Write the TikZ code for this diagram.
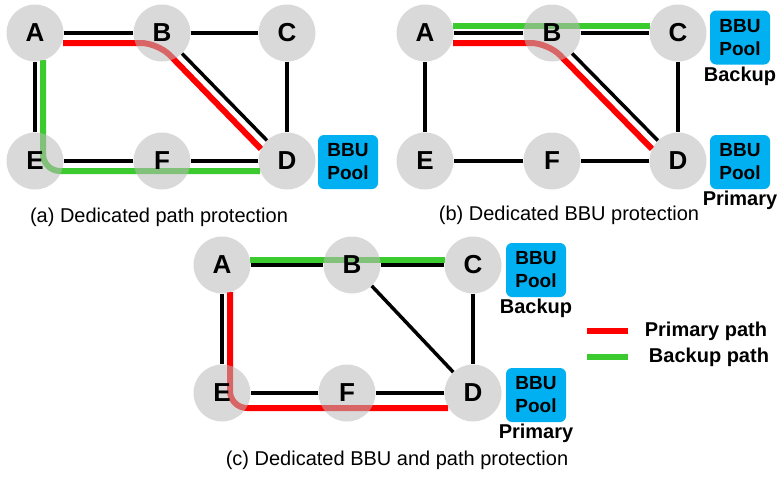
\documentclass[tikz,border=0pt]{standalone}
\usepackage{fontspec}
\setmainfont{Liberation Sans}
\usetikzlibrary{calc,backgrounds}
\definecolor{sitegray}{HTML}{BABABA}
\definecolor{pathred}{HTML}{FF0000}
\definecolor{pathgreen}{HTML}{3CCB2E}
\definecolor{poolblue}{HTML}{00B0F0}
\tikzset{
  site/.style={circle,fill=sitegray,fill opacity=0.55,text opacity=1,minimum size=57pt,inner sep=0pt,font=\fontsize{26}{26}\selectfont\bfseries},
  link/.style={line width=3.5pt},
  primary/.style={pathred,line width=6pt,rounded corners=17pt},
  backup/.style={pathgreen,line width=6pt,rounded corners=17pt},
  pool/.style={fill=poolblue,rounded corners=6pt,minimum width=60pt,minimum height=54pt,align=center,inner sep=0pt,font=\fontsize{19}{23}\selectfont\bfseries},
  role/.style={font=\fontsize{20}{20}\selectfont\bfseries},
  caption/.style={font=\fontsize{20}{20}\selectfont}
}

\begin{document}
\begin{tikzpicture}[x=1pt,y=-1pt]
            \useasboundingbox (0,0) rectangle (777,477);
            % (a) dedicated path protection
            \node[site] (aA) at (35,33) {A};
            \node[site] (aB) at (162,33) {B};
            \node[site] (aC) at (287,33) {C};
            \node[site] (aE) at (35,161) {E};
            \node[site] (aF) at (162,161) {F};
            \node[site] (aD) at (287,161) {D};
            \node[pool] (aP) at (348,162) {BBU\\Pool};
            \node[caption] (acap) at (159,217) {(a) Dedicated path protection};
            % (b) dedicated BBU protection
            \node[site] (bA) at (425,33) {A};
            \node[site] (bB) at (552,33) {B};
            \node[site] (bC) at (678,33) {C};
            \node[site] (bE) at (425,161) {E};
            \node[site] (bF) at (552,161) {F};
            \node[site] (bD) at (678,161) {D};
            \node[pool] (bP1) at (740,37.5) {BBU\\Pool};
            \node[role] (bR1) at (740,76) {Backup};
            \node[pool] (bP2) at (740,162) {BBU\\Pool};
            \node[role] (bR2) at (740,200) {Primary};
            \node[caption] (bcap) at (569,215) {(b) Dedicated BBU protection};
            % (c) dedicated BBU and path protection
            \node[site] (cA) at (222,265) {A};
            \node[site] (cB) at (352,265) {B};
            \node[site] (cC) at (473,265) {C};
            \node[site] (cE) at (222,393) {E};
            \node[site] (cF) at (347,393) {F};
            \node[site] (cD) at (473,393) {D};
            \node[pool] (cP1) at (536,270) {BBU\\Pool};
            \node[role] (cR1) at (536,308) {Backup};
            \node[pool] (cP2) at (536,395) {BBU\\Pool};
            \node[role] (cR2) at (536,433) {Primary};
            \node[caption] (ccap) at (397,460) {(c) Dedicated BBU and path protection};
            % links
            \foreach \p in {a,b,c}
              \foreach \u/\v in {A/B,B/C,C/D,D/F,F/E,E/A,B/D}
                \draw[link] (\p\u) -- (\p\v);
            % protection paths, under the sites
            \begin{scope}[on background layer]
              \draw[primary] ($(aA)+(28,10)$) -- ($(aB)+(-4,10)$) -- ($(aD)+(-26,-12)$);
              \draw[backup] ($(aA)+(8,27)$) -- ($(aE)+(8,10)$) -- ($(aD)+(-27,10)$);
              \draw[backup] ($(bA)+(28,-7)$) -- ($(bC)+(-28,-7)$);
              \draw[primary] ($(bA)+(28,10)$) -- ($(bB)+(-4,10)$) -- ($(bD)+(-26,-12)$);
              \draw[backup] ($(cA)+(28,-5)$) -- ($(cC)+(-28,-5)$);
              \draw[primary] ($(cA)+(8,27)$) -- ($(cE)+(8,15)$) -- ($(cD)+(-25,15)$);
            \end{scope}
            % legend
            \coordinate (lp1) at (587,331);
            \coordinate (lp2) at (628,331);
            \coordinate (lb1) at (587,357);
            \coordinate (lb2) at (628,357);
            \draw[primary] (lp1) -- (lp2);
            \draw[backup] (lb1) -- (lb2);
            \node[role] (lpt) at (706,331) {Primary path};
            \node[role] (lbt) at (709,357) {Backup path};
        \end{tikzpicture}
\end{document}
